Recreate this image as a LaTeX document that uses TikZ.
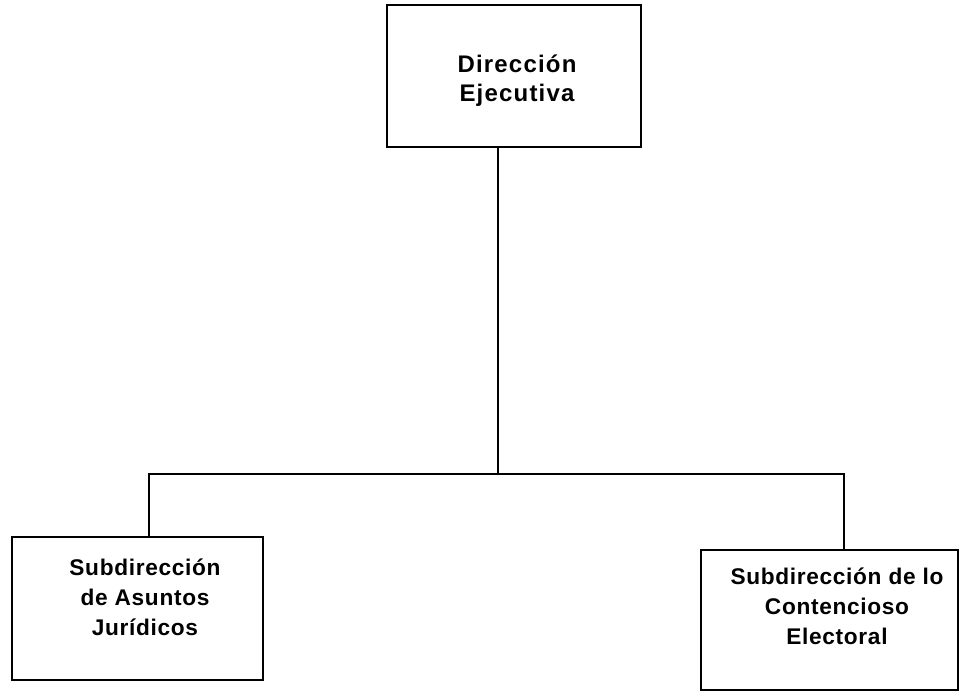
\documentclass[tikz,border=0pt]{standalone}
\usepackage{fontspec}
\setmainfont{Liberation Sans}
\usetikzlibrary{positioning}

\begin{document}
\begin{tikzpicture}[x=0.75pt,y=-0.75pt,
          unit/.style={draw,line width=1.1pt,inner sep=0pt},
          lbl/.style={align=center,font=\fontsize{17}{22.5}\selectfont\bfseries\addfontfeature{LetterSpace=3}},
          link/.style={line width=1.1pt}
        ]
        \useasboundingbox (0,0) rectangle (963,696);
        % boxes
        \node[unit,minimum width=190.5pt,minimum height=106.5pt] (dir) at (514,76) {};
        \node[unit,minimum width=188.25pt,minimum height=107.25pt] (juri) at (137.5,608.5) {};
        \node[unit,minimum width=192.75pt,minimum height=105pt] (cont) at (829.5,620) {};
        % texts
        \node[lbl,font=\fontsize{18}{21.5}\selectfont\bfseries\addfontfeature{LetterSpace=5}] (dirt) at (517,81) {Dirección\\Ejecutiva};
        \node[lbl] (jurit) at (145,597) {Subdirección\\de Asuntos\\Jurídicos};
        \node[lbl] (contt) at (837,606) {Subdirección de lo\\Contencioso\\Electoral};
        % connectors
        \coordinate (bus) at (498,474);
        \draw[link] (dir.south -| bus) -- (bus);
        \draw[link] ([xshift=8.6pt]juri.north) |- (bus) -| ([xshift=10.9pt]cont.north);
      \end{tikzpicture}
\end{document}
